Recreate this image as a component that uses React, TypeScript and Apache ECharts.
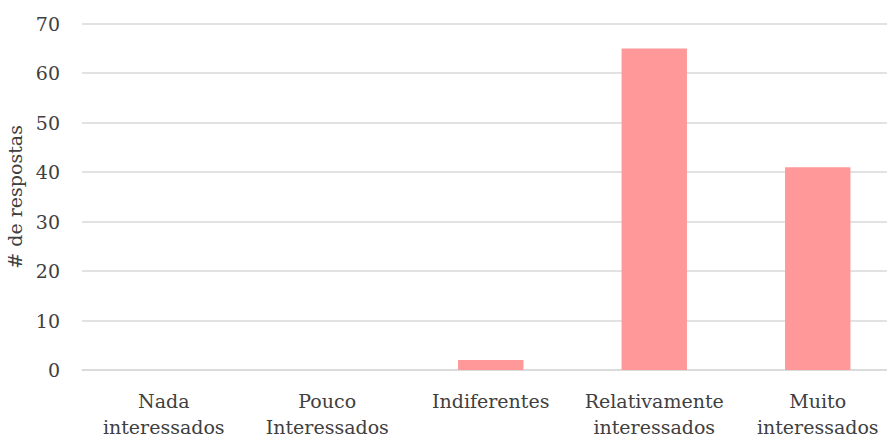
import React, { useEffect, useRef } from "react";
import * as echarts from "echarts";

const categories = [
  "Nada\ninteressados",
  "Pouco\nInteressados",
  "Indiferentes",
  "Relativamente\ninteressados",
  "Muito\ninteressados",
];
const values = [0, 0, 2, 65, 41];
const yAxisName = "# de respostas";

const FONT = "'Palatino Linotype', 'Book Antiqua', Palatino, 'DejaVu Serif', serif";

export default function App() {
  const ref = useRef<HTMLDivElement>(null);
  useEffect(() => {
    if (!ref.current) return;
    const chart = echarts.init(ref.current, undefined, { renderer: "svg" });
    chart.setOption({
      animation: false,
      textStyle: { fontFamily: FONT },
      grid: {
        left: 82,
        width: 817.5,
        top: 23.7,
        bottom: 69,
        containLabel: false,
        outerBoundsMode: "none",
      },
      xAxis: {
        type: "category",
        data: categories,
        axisLine: { show: true, lineStyle: { color: "#d9d9d9", width: 1.5 } },
        axisTick: { show: false },
        axisLabel: {
          color: "#404040",
          fontFamily: FONT,
          fontSize: 19,
          lineHeight: 26,
          margin: 18,
          interval: 0,
        },
      },
      yAxis: {
        type: "value",
        min: 0,
        max: 70,
        interval: 10,
        name: yAxisName,
        nameLocation: "middle",
        nameGap: 57,
        nameRotate: 90,
        nameTextStyle: { color: "#404040", fontFamily: FONT, fontSize: 19 },
        axisLine: { show: false },
        axisTick: { show: false },
        splitLine: { lineStyle: { color: "#d9d9d9", width: 1.5 } },
        axisLabel: { color: "#404040", fontFamily: FONT, fontSize: 19, margin: 22 },
      },
      series: [
        {
          type: "bar",
          data: values,
          barWidth: "40%",
          itemStyle: { color: "#ff9999" },
        },
      ],
    });
    return () => chart.dispose();
  }, []);
  return <div ref={ref} style={{ width: 887, height: 439, position: "absolute", left: 0, top: 0 }} />;
}
